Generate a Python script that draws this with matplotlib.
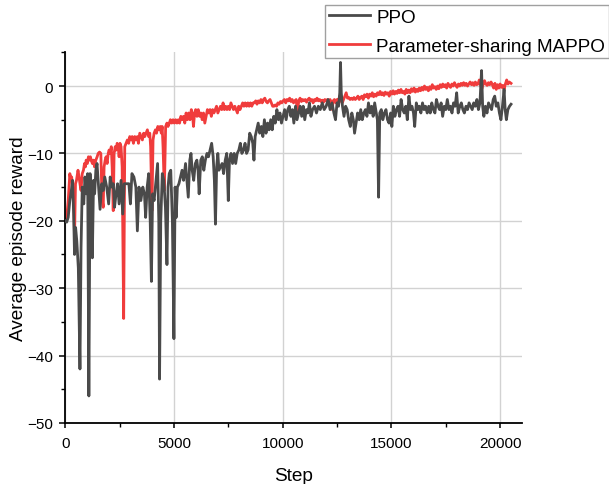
import matplotlib
matplotlib.use("Agg")
import matplotlib.pyplot as plt
from matplotlib.ticker import MultipleLocator

plt.rcParams['font.family'] = ['Liberation Sans', 'DejaVu Sans']

# PPO curve (step, reward)
ppo_step = [0, 70, 140, 215, 285, 340, 390, 430, 480, 535, 605, 680, 730, 785, 855, 910, 965, 1035,
            1090, 1145, 1195, 1250, 1305, 1355, 1410, 1465, 1535, 1605, 1680, 1750, 1820, 1910, 2000,
            2070, 2145, 2215, 2270, 2340, 2410, 2480, 2570, 2645, 2715, 2820, 2930, 3000, 3070, 3160,
            3250, 3320, 3395, 3480, 3570, 3645, 3700, 3770, 3840, 3910, 3965, 4020, 4090, 4180, 4250,
            4305, 4340, 4395, 4465, 4535, 4610, 4680, 4730, 4785, 4855, 4930, 5000, 5055, 5105, 5160,
            5230, 5305, 5375, 5445, 5535, 5610, 5660, 5730, 5785, 5840, 5910, 5985, 6055, 6110, 6160,
            6235, 6305, 6375, 6445, 6520, 6590, 6660, 6735, 6805, 6860, 6910, 6965, 7020, 7070, 7145,
            7215, 7285, 7360, 7430, 7500, 7555, 7625, 7695, 7770, 7840, 7910, 7985, 8055, 8125, 8200,
            8270, 8340, 8410, 8485, 8555, 8625, 8680, 8735, 8805, 8875, 8945, 9020, 9090, 9160, 9235,
            9305, 9375, 9450, 9520, 9590, 9660, 9735, 9805, 9875, 9945, 10020, 10090, 10160, 10235,
            10305, 10375, 10445, 10515, 10590, 10660, 10730, 10805, 10875, 10945, 11015, 11090, 11160,
            11230, 11300, 11375, 11465, 11555, 11640, 11730, 11820, 11910, 12000, 12090, 12180, 12270,
            12355, 12430, 12500, 12570, 12625, 12660, 12695, 12750, 12820, 12895, 12965, 13035, 13110,
            13180, 13250, 13305, 13375, 13445, 13520, 13590, 13660, 13735, 13805, 13875, 13945, 14020,
            14090, 14160, 14230, 14305, 14355, 14410, 14465, 14535, 14605, 14680, 14750, 14820, 14890,
            14965, 15020, 15090, 15160, 15230, 15305, 15375, 15445, 15520, 15590, 15660, 15730, 15805,
            15875, 15945, 16015, 16070, 16145, 16215, 16285, 16355, 16430, 16500, 16570, 16645, 16715,
            16785, 16855, 16930, 17000, 17070, 17145, 17215, 17285, 17355, 17430, 17500, 17570, 17645,
            17715, 17785, 17855, 17930, 18000, 18070, 18145, 18215, 18285, 18355, 18430, 18500, 18570,
            18645, 18715, 18785, 18855, 18930, 19000, 19070, 19145, 19195, 19250, 19320, 19395, 19465,
            19535, 19605, 19680, 19750, 19820, 19895, 19965, 20035, 20105, 20180, 20230, 20285, 20355,
            20430, 20500]
ppo_reward = [-20, -20.2, -19.5, -17, -15.5, -14, -19, -25, -21, -23, -27, -42, -24, -15, -17.5, -13.5,
              -16, -13, -46, -13, -18, -25.5, -14, -16, -12.5, -11.5, -15, -18.3, -14.5, -15.5, -13.5,
              -15, -17.5, -13.5, -15, -14.5, -18, -16, -14.5, -17.5, -14, -19, -14.5, -14.5, -14.5,
              -17.5, -13, -13.5, -15, -21.5, -15, -17, -15, -16, -19.5, -15, -13, -20, -29, -16, -17,
              -14, -11.5, -20, -43.5, -20, -13, -14, -18, -26.5, -15, -13, -12.5, -20, -37.5, -15,
              -19.5, -15, -14.5, -13.5, -12.5, -14, -11.5, -14.5, -16.5, -11, -10, -12.5, -14, -11.5,
              -11, -12.5, -16, -11, -10.5, -12.5, -11, -10, -10.5, -9.5, -8.5, -10.5, -14, -20.5, -12,
              -10, -12.5, -12, -11.5, -13, -11, -10, -17, -11, -10, -11.5, -10, -11.5, -10, -9.5, -8.5,
              -10, -9.5, -8.5, -10, -9.5, -7, -7.5, -8.5, -11, -7.5, -6.5, -5.5, -7, -6, -7.5, -5, -7,
              -5.5, -6.5, -5, -6.5, -4.5, -5.5, -3.5, -5, -4, -5.5, -4.5, -3.5, -5, -3.5, -3, -4.5,
              -3.5, -5.5, -3, -5, -4, -3, -4.5, -3, -5, -3.5, -4, -2.5, -4.5, -3.5, -3, -4, -3, -3.5,
              -2.5, -3.5, -3, -2, -3.5, -2.5, -4, -5, -2.5, -3, -1, 3.5, -1, -3, -4.5, -3, -3.5, -5,
              -6, -4, -5, -7, -5.5, -4, -5, -3.5, -5, -4, -3.5, -4.5, -2.5, -4, -3, -4.5, -2.5, -4, -5,
              -16.5, -4, -3.5, -5, -4, -3.5, -5, -5.5, -4, -6, -3, -4.5, -3.5, -3, -4.5, -2, -3.5, -4,
              -3, -5, -1.5, -3.5, -3, -4, -6, -2.5, -3.5, -3, -4, -2.5, -3.5, -3, -4, -3, -4, -2.5,
              -3.5, -4, -2, -3, -3.5, -2.5, -4.5, -3, -3.5, -2, -3.5, -3, -4, -2.5, -3, -1, -4, -3,
              -2.5, -3.5, -4, -3, -3.5, -2.5, -3, -3.5, -2.5, -3, -2, -3.5, -2.5, 2.3, -3, -4.5, -3,
              -4, -2.5, -3, -3.5, -2, -1.5, -3, -2.5, -4, -5, -3, -0.5, -3.5, -5, -3.5, -3, -2.7]

# Parameter-sharing MAPPO curve (step, reward)
mappo_step = [0, 70, 140, 215, 260, 300, 340, 390, 430, 475, 520, 590, 640, 680, 730, 785, 840, 890,
              930, 965, 1020, 1070, 1120, 1160, 1200, 1250, 1300, 1350, 1410, 1470, 1520, 1580, 1640,
              1680, 1710, 1750, 1790, 1840, 1880, 1930, 1980, 2020, 2070, 2120, 2160, 2210, 2250, 2300,
              2350, 2390, 2440, 2480, 2520, 2570, 2620, 2690, 2740, 2800, 2860, 2920, 2970, 3030, 3080,
              3140, 3200, 3260, 3320, 3370, 3430, 3490, 3550, 3610, 3660, 3720, 3780, 3840, 3890, 3930,
              3990, 4040, 4090, 4150, 4200, 4260, 4320, 4370, 4420, 4460, 4500, 4560, 4620, 4680, 4730,
              4790, 4840, 4900, 4960, 5020, 5080, 5140, 5200, 5260, 5320, 5380, 5440, 5500, 5560, 5620,
              5680, 5740, 5800, 5860, 5900, 5950, 6000, 6060, 6120, 6180, 6240, 6300, 6360, 6420, 6480,
              6540, 6600, 6660, 6720, 6780, 6840, 6900, 6960, 7020, 7080, 7140, 7200, 7260, 7320, 7380,
              7440, 7500, 7560, 7620, 7680, 7740, 7800, 7860, 7920, 7980, 8040, 8100, 8160, 8220, 8280,
              8340, 8400, 8460, 8520, 8580, 8640, 8700, 8760, 8820, 8880, 8940, 9000, 9060, 9120, 9180,
              9240, 9300, 9360, 9420, 9480, 9540, 9600, 9660, 9720, 9780, 9840, 9900, 9960, 10020,
              10080, 10140, 10200, 10260, 10320, 10380, 10440, 10500, 10560, 10620, 10680, 10740,
              10800, 10860, 10920, 10980, 11040, 11100, 11160, 11220, 11280, 11340, 11400, 11460,
              11520, 11580, 11640, 11700, 11760, 11820, 11880, 11940, 12000, 12060, 12120, 12180,
              12240, 12280, 12320, 12380, 12440, 12500, 12560, 12620, 12680, 12740, 12800, 12860,
              12920, 12980, 13040, 13100, 13160, 13220, 13280, 13340, 13400, 13460, 13520, 13580,
              13640, 13700, 13760, 13820, 13880, 13940, 14000, 14060, 14120, 14180, 14240, 14300,
              14360, 14420, 14480, 14540, 14600, 14660, 14720, 14780, 14840, 14900, 14960, 15020,
              15080, 15140, 15200, 15260, 15320, 15380, 15440, 15500, 15560, 15620, 15680, 15740,
              15800, 15860, 15920, 15980, 16040, 16100, 16160, 16220, 16280, 16340, 16400, 16460,
              16520, 16580, 16640, 16700, 16760, 16820, 16880, 16940, 17000, 17060, 17120, 17180,
              17240, 17300, 17360, 17420, 17480, 17540, 17600, 17660, 17720, 17780, 17840, 17900,
              17960, 18020, 18080, 18140, 18200, 18260, 18320, 18380, 18440, 18500, 18560, 18620,
              18680, 18740, 18800, 18860, 18920, 18980, 19040, 19100, 19160, 19220, 19280, 19340,
              19400, 19460, 19520, 19580, 19640, 19700, 19760, 19820, 19880, 19940, 20000, 20060,
              20120, 20180, 20240, 20300, 20360, 20420, 20500]
mappo_reward = [-20, -19.5, -17, -13, -14, -13.5, -15, -16, -22.5, -14.5, -14, -12.5, -13.5, -14.5,
                -15.5, -13, -12.5, -11.5, -12, -11, -11.5, -10.5, -11, -10.5, -11, -11.5, -11, -12,
                -11, -10.5, -10, -9.8, -10, -15, -17, -18, -12, -11, -10.5, -11.5, -10, -9.5, -10, -9,
                -12, -18.5, -10, -9, -9.5, -8.5, -9, -10.5, -8.5, -9, -12, -34.5, -9, -8.5, -8, -8.5,
                -7.5, -8, -7.5, -8.5, -7.5, -8, -7.5, -8.5, -7, -7.5, -8, -7, -7.5, -7, -6.5, -7.5, -7,
                -9, -18.5, -8, -7, -6.5, -7, -6, -6.5, -6, -7, -6, -9, -15.5, -6, -5.5, -6, -5.5, -5,
                -5.5, -5, -5.5, -5, -5.5, -5, -5.5, -4.5, -5, -4.5, -5.5, -4, -5, -4, -5, -3.5, -4.5,
                -6, -4, -3.5, -4.5, -3.5, -4.5, -4, -5, -4, -5.5, -4.5, -3.5, -4, -3.5, -4.5, -3.5, -4,
                -3.5, -3, -4, -3.5, -3, -3.5, -2.5, -3.5, -3, -3.5, -3, -3.5, -2.5, -3, -3.5, -3, -3.5,
                -4, -3, -3.5, -3, -2.5, -3, -2.5, -3, -2.5, -3, -2.5, -3, -2.5, -2.5, -2.2, -2.7, -2.2,
                -2.5, -2, -2.5, -2, -1.8, -2.3, -2.5, -2.2, -2, -2.5, -3, -3, -2.8, -3, -2.5, -2.7,
                -2.3, -2.5, -2.2, -2, -2.5, -2, -2.2, -1.8, -2.3, -2, -2.5, -2.2, -2, -4, -2.2, -1.8,
                -2.3, -2, -2.2, -2, -2.4, -2, -1.8, -2.2, -2, -2.5, -2, -2.2, -1.8, -2.2, -2, -2.3,
                -2.1, -2.4, -2, -2.2, -2, -2.3, -2, -2.4, -3.5, -2.2, -2, -2.5, -2, -2.3, -1.5, -2.2,
                -2.5, -2, -1.5, -1, -1.8, -1.7, -2, -1.8, -2, -1.7, -2, -1.8, -1.5, -2, -1.7, -1.5, -2,
                -1.3, -1.6, -1.2, -1.8, -1.2, -1.5, -1, -1.6, -1.2, -1.5, -1, -1.3, -0.8, -1.3, -1,
                -1.4, -0.9, -1.2, -1, -1.5, -0.8, -1.2, -0.7, -1.2, -0.8, -1.1, -0.6, -1, -0.5, -1,
                -0.8, -1.2, -0.5, -1, -0.6, -1, -0.4, -0.8, -0.3, -0.9, -0.5, -0.8, -0.3, -0.7, -0.2,
                -0.6, 0, -0.5, -0.2, -0.7, -0.1, -0.5, 0.2, -0.3, -0.1, -0.5, 0, -0.4, 0.2, -0.2, 0.3,
                -0.1, 0.2, -0.3, 0.4, 0, -0.2, 0.3, 0, 0.5, 0.1, -0.2, 0.3, 0, 0.4, 0.1, 0.5, 0.1, 0.4,
                0, 0.3, 0.6, 0.2, 0.5, 0.1, 0.6, 0.2, 0.3, 0.9, 0.1, -0.4, 0.3, 0.8, 0.3, 0.1, 0.5,
                0.2, 0.6, 0.2, -0.3, 0.4, -0.5, 0.2, -0.3, 0.3, -0.2, 0.1, -0.5, 0.3, 0.9, 0.3, 0.6,
                0.4]

fig = plt.figure(figsize=(6.09, 4.85), dpi=100)
ax = fig.add_axes([0.107, 0.126, 0.750, 0.764])

ax.plot(ppo_step, ppo_reward, color='#4a4a4a', lw=2.0, label='PPO', zorder=3)
ax.plot(mappo_step, mappo_reward, color='#f03c3c', lw=2.0, label='Parameter-sharing MAPPO', zorder=2)

ax.set_xlim(0, 21000)
ax.set_ylim(-50, 5)
ax.xaxis.set_major_locator(MultipleLocator(5000))
ax.xaxis.set_minor_locator(MultipleLocator(2500))
ax.yaxis.set_major_locator(MultipleLocator(10))
ax.yaxis.set_minor_locator(MultipleLocator(5))
ax.grid(True, which='major', color='#d2d2d2', lw=1)
ax.set_axisbelow(True)

for side in ['top', 'right']:
    ax.spines[side].set_visible(False)
for side in ['left', 'bottom']:
    ax.spines[side].set_linewidth(1.3)

ax.tick_params(which='major', direction='out', width=1.1, labelsize=11)
ax.tick_params(axis='x', which='major', length=3.5, pad=6)
ax.tick_params(axis='y', which='major', length=4.5, pad=4)
ax.tick_params(which='minor', direction='out', length=3, width=1.0)

ax.set_xlabel('Step', fontsize=13.7, labelpad=12)
ax.set_ylabel('Average episode reward', fontsize=13.7, labelpad=0)

fig.legend(loc='upper left', bbox_to_anchor=(325 / 609, 1 - 6 / 485), fontsize=13.6,
           frameon=True, fancybox=False, edgecolor='#888888', borderaxespad=0,
           handlelength=2.2, handletextpad=0.3, borderpad=0.2, labelspacing=0.6)

fig.savefig('out.png', dpi=100)
